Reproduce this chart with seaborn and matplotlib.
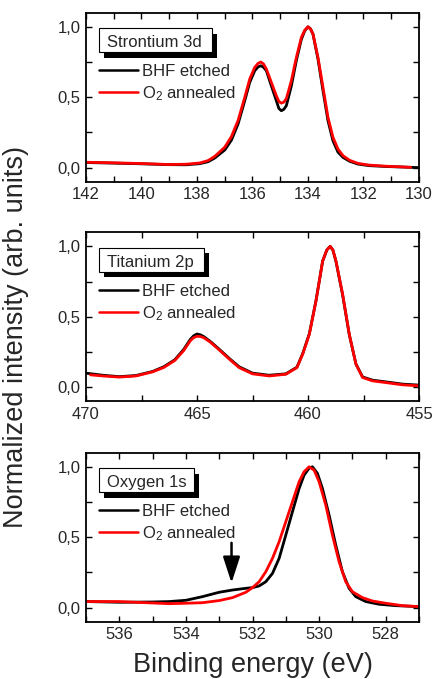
import matplotlib
matplotlib.use("Agg")
import matplotlib.pyplot as plt
import seaborn as sns
from matplotlib.patches import Rectangle
from matplotlib.ticker import FuncFormatter, MultipleLocator

# ---------------- Sr 3d ----------------
sr_e_bhf = [142.0, 141.0, 140.0, 139.0, 138.4, 137.9, 137.6, 137.36, 137.0, 136.76,
            136.52, 136.28, 136.1, 135.92, 135.8, 135.7, 135.6, 135.5, 135.32, 135.14,
            135.05, 134.96, 134.87, 134.78, 134.6, 134.42, 134.24, 134.12, 134.0, 133.91,
            133.82, 133.64, 133.46, 133.28, 133.1, 132.92, 132.74, 132.5, 132.2, 131.8,
            131.2, 130.6, 130.0]
sr_i_bhf = [0.036, 0.032, 0.027, 0.021, 0.020, 0.028, 0.042, 0.068, 0.125, 0.195,
            0.310, 0.475, 0.605, 0.688, 0.715, 0.723, 0.712, 0.688, 0.580, 0.475,
            0.420, 0.404, 0.414, 0.440, 0.580, 0.760, 0.910, 0.970, 1.000, 0.985,
            0.948, 0.770, 0.546, 0.333, 0.190, 0.110, 0.073, 0.045, 0.025, 0.014,
            0.008, 0.004, 0.000]
sr_e_o2 = [142.0, 141.0, 140.0, 139.0, 138.4, 137.9, 137.6, 137.36, 137.0, 136.76,
           136.52, 136.28, 136.1, 135.92, 135.8, 135.7, 135.6, 135.5, 135.32, 135.14,
           135.05, 134.96, 134.87, 134.78, 134.6, 134.42, 134.24, 134.12, 134.0, 133.91,
           133.82, 133.64, 133.46, 133.28, 133.1, 132.92, 132.74, 132.5, 132.2, 131.8,
           131.2, 130.6, 130.3]
sr_i_o2 = [0.038, 0.034, 0.029, 0.022, 0.024, 0.033, 0.050, 0.080, 0.145, 0.220,
           0.335, 0.499, 0.629, 0.712, 0.740, 0.750, 0.735, 0.700, 0.605, 0.510,
           0.470, 0.458, 0.465, 0.490, 0.617, 0.782, 0.924, 0.975, 1.000, 0.985,
           0.948, 0.782, 0.570, 0.357, 0.215, 0.132, 0.085, 0.052, 0.030, 0.018,
           0.010, 0.005, 0.002]

# ---------------- Ti 2p ----------------
ti_e_bhf = [470.0, 469.25, 468.5, 467.75, 467.0, 466.5, 466.0, 465.6, 465.3, 465.15,
            465.0, 464.85, 464.7, 464.4, 464.0, 463.55, 463.1, 462.5, 461.75, 461.0,
            460.5, 460.24, 459.94, 459.64, 459.34, 459.15, 459.0, 458.88, 458.74, 458.44,
            458.14, 457.84, 457.54, 457.09, 456.5, 455.74, 455.0]
ti_i_bhf = [0.100, 0.085, 0.075, 0.083, 0.112, 0.145, 0.195, 0.268, 0.340, 0.365,
            0.378, 0.372, 0.360, 0.325, 0.270, 0.205, 0.145, 0.100, 0.085, 0.095,
            0.142, 0.238, 0.380, 0.615, 0.896, 0.975, 1.000, 0.975, 0.893, 0.655,
            0.372, 0.165, 0.073, 0.050, 0.038, 0.022, 0.015]
ti_e_o2 = [469.8, 469.25, 468.5, 467.75, 467.0, 466.5, 466.0, 465.6, 465.3, 465.15,
           465.0, 464.85, 464.7, 464.4, 464.0, 463.55, 463.1, 462.5, 461.75, 461.0,
           460.5, 460.24, 459.94, 459.64, 459.34, 459.15, 459.0, 458.88, 458.74, 458.44,
           458.14, 457.84, 457.54, 457.09, 456.5, 455.74, 455.0]
ti_i_o2 = [0.088, 0.080, 0.072, 0.080, 0.109, 0.140, 0.190, 0.260, 0.330, 0.352,
           0.362, 0.360, 0.352, 0.320, 0.265, 0.200, 0.139, 0.095, 0.080, 0.092,
           0.139, 0.234, 0.376, 0.612, 0.896, 0.975, 1.000, 0.975, 0.896, 0.660,
           0.376, 0.163, 0.069, 0.045, 0.033, 0.017, 0.010]

# ---------------- O 1s ----------------
o_e_bhf = [537.0, 536.0, 535.0, 534.5, 534.0, 533.5, 533.0, 532.6, 532.2, 532.0,
           531.8, 531.6, 531.4, 531.2, 531.0, 530.8, 530.6, 530.45, 530.3, 530.2,
           530.05, 529.9, 529.7, 529.5, 529.3, 529.1, 528.9, 528.6, 528.2, 527.7, 527.0]
o_i_bhf = [0.043, 0.038, 0.040, 0.043, 0.052, 0.078, 0.109, 0.125, 0.137, 0.142,
           0.154, 0.184, 0.243, 0.350, 0.515, 0.681, 0.846, 0.941, 0.990, 1.000,
           0.953, 0.846, 0.657, 0.444, 0.255, 0.137, 0.078, 0.043, 0.024, 0.014, 0.007]
o_e_o2 = [537.0, 536.0, 535.0, 534.5, 534.0, 533.5, 533.0, 532.6, 532.2, 532.0,
          531.8, 531.6, 531.4, 531.2, 531.0, 530.8, 530.6, 530.45, 530.3, 530.15,
          530.0, 529.8, 529.6, 529.4, 529.2, 529.0, 528.7, 528.4, 528.0, 527.5, 527.0]
o_i_o2 = [0.043, 0.043, 0.033, 0.028, 0.031, 0.035, 0.050, 0.071, 0.109, 0.142,
          0.184, 0.255, 0.350, 0.468, 0.610, 0.752, 0.894, 0.965, 1.000, 0.976,
          0.894, 0.728, 0.515, 0.326, 0.184, 0.113, 0.071, 0.047, 0.031, 0.014, 0.007]

# shoulder marker in the O 1s panel (energy, start height, tip height)
arrow_energy = 532.63
arrow_from = 0.46
arrow_to = 0.175

panel_titles = ["Strontium 3d", "Titanium 2p", "Oxygen 1s"]
series_labels = ["BHF etched", "O$_2$ annealed"]
x_limits = [(142, 130), (470, 455), (537, 527)]
x_major = [2, 5, 2]
x_minor = [1, 2.5, 1]
y_ticks = [0.0, 0.5, 1.0]

sns.set_theme(style="ticks")
plt.rcParams["font.family"] = ["Liberation Sans", "DejaVu Sans"]
plt.rcParams["mathtext.fontset"] = "custom"
plt.rcParams["mathtext.rm"] = "Liberation Sans"
plt.rcParams["mathtext.it"] = "Liberation Sans:italic"

W, H = 433, 679
fig = plt.figure(figsize=(W / 100, H / 100), dpi=100)

left = 86 / W
width = 333 / W
height = 169 / H
tops = [12.7, 232.3, 452.7]

data = [
    (sr_e_bhf, sr_i_bhf, sr_e_o2, sr_i_o2),
    (ti_e_bhf, ti_i_bhf, ti_e_o2, ti_i_o2),
    (o_e_bhf, o_i_bhf, o_e_o2, o_i_o2),
]
box_right = [0.377, 0.355, 0.325]

comma = FuncFormatter(lambda v, p: f"{v:.1f}".replace(".", ","))

for k in range(3):
    bottom = 1 - (tops[k] + 169) / H
    ax = fig.add_axes([left, bottom, width, height])
    e_b, i_b, e_o, i_o = data[k]
    sns.lineplot(x=e_b, y=i_b, ax=ax, color="black", lw=2.0, sort=False,
                 estimator=None, label=series_labels[0])
    sns.lineplot(x=e_o, y=i_o, ax=ax, color="#ff0000", lw=2.0, sort=False,
                 estimator=None, label=series_labels[1])
    ax.set_xlim(*x_limits[k])
    ax.set_ylim(-0.1, 1.1)
    ax.xaxis.set_major_locator(MultipleLocator(x_major[k]))
    ax.xaxis.set_minor_locator(MultipleLocator(x_minor[k]))
    ax.set_yticks(y_ticks)
    ax.yaxis.set_minor_locator(MultipleLocator(0.25))
    ax.yaxis.set_major_formatter(comma)
    ax.tick_params(which="both", direction="in", top=True, right=True,
                   length=4.0, width=1.0, labelsize=12, pad=4, color="black")
    for s in ax.spines.values():
        s.set_linewidth(1.3)
        s.set_color("black")
    ax.set_xlabel("")
    ax.set_ylabel("")

    leg = ax.legend(loc="upper left", bbox_to_anchor=(0.039, 0.695), frameon=False,
                    fontsize=12, handlelength=2.35, handletextpad=0.25,
                    labelspacing=0.3, borderpad=0, borderaxespad=0)
    for ln in leg.get_lines():
        ln.set_linewidth(1.8)

    # title box with drop shadow
    x0, x1 = 0.038, box_right[k]
    y0, y1 = 0.767, 0.909
    dx, dy = 5 / 333, 5.5 / 169
    ax.add_patch(Rectangle((x0 + dx, y0 - dy), x1 - x0, y1 - y0, transform=ax.transAxes,
                           facecolor="black", edgecolor="black", lw=0, zorder=4))
    ax.add_patch(Rectangle((x0, y0), x1 - x0, y1 - y0, transform=ax.transAxes,
                           facecolor="white", edgecolor="black", lw=0.8, zorder=5))
    ax.text(0.064, 0.797, panel_titles[k], transform=ax.transAxes, fontsize=12,
            ha="left", va="baseline", zorder=6)

    if k == 2:
        ax.annotate("", xy=(arrow_energy, arrow_to), xytext=(arrow_energy, arrow_from),
                    arrowprops=dict(arrowstyle="-|>,head_length=0.8,head_width=0.26",
                                    mutation_scale=20, lw=1.8, color="black",
                                    shrinkA=0, shrinkB=0))

fig.text(0.037, 0.504, "Normalized intensity (arb. units)", rotation=90,
         ha="center", va="center", fontsize=19.5)
fig.text(252.5 / W, 1 - 672 / H, "Binding energy (eV)", ha="center", va="baseline",
         fontsize=19.5)

fig.savefig("out.png", dpi=100)
